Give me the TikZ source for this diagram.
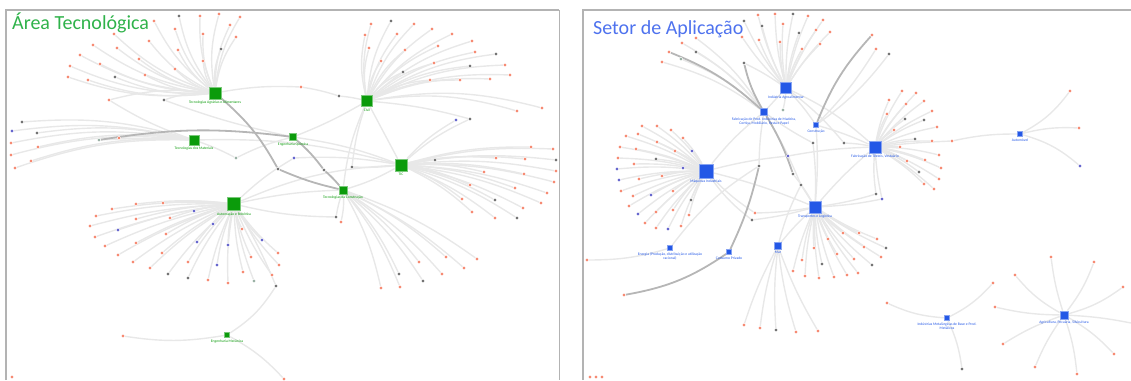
\documentclass[tikz,border=0pt]{standalone}
\usepackage{fontspec}
\setmainfont{Carlito}
\usetikzlibrary{positioning,backgrounds}

\definecolor{hubgreen}{HTML}{0B9B0B}
\definecolor{hubblue}{HTML}{2458E6}
\definecolor{leafr}{HTML}{F4694A}
\definecolor{leafd}{HTML}{4B4B4B}
\definecolor{leafb}{HTML}{3A3AC0}
\definecolor{leafg}{HTML}{7E9C8C}
\definecolor{edgegray}{HTML}{E8E8E8}
\definecolor{heavygray}{HTML}{B6B6B6}
\definecolor{framegray}{HTML}{B3B3B3}
\definecolor{titlegreen}{HTML}{2FB24A}
\definecolor{titleblue}{HTML}{4E72EE}

\begin{document}
\begin{tikzpicture}[x=1pt,y=-1pt,
    hubg/.style={draw=hubgreen!55!white, fill=hubgreen, inner sep=0pt, line width=0.8pt},
    hubb/.style={draw=hubblue!55!white, fill=hubblue, inner sep=0pt, line width=0.8pt},
    leaf/.style={circle, draw=white, line width=0.5pt, inner sep=0pt, minimum size=3.6pt},
    link/.style={draw=edgegray, line width=1.4pt},
    heavy/.style={draw=heavygray, line width=1.8pt},
    glbl/.style={font=\fontsize{3.7}{4.2}\selectfont, text=hubgreen, inner sep=0.6pt, align=center},
    blbl/.style={font=\fontsize{3.7}{4.2}\selectfont, text=hubblue, inner sep=0.6pt, align=center},
    ttl/.style={font=\fontsize{20}{22}\selectfont, inner sep=0pt, anchor=base west},
    frame/.style={draw=framegray, line width=2pt}
]
\useasboundingbox (0,0) rectangle (1131,380);

% panels
\draw[frame] (6,380) -- (6,10) -- (559,10);
\draw[framegray, line width=1pt] (559,10) -- (559,380);
\draw[frame] (583,380) -- (583,10) -- (1131,10);
\node[ttl, text=titlegreen] (lttl) at (12,29) {Área Tecnológica};
\node[ttl, text=titleblue] (rttl) at (593,34) {Setor de Aplicação};

% left: hubs
\node[hubg, minimum size=12pt] (agr) at (215,93) {};
\node[glbl, below=1pt of agr] (agrl) {Tecnologias Agrárias e Alimentares};
\node[hubg, minimum size=10pt] (mat) at (194,140) {};
\node[glbl, below=1pt of mat] (matl) {Tecnologias dos Materiais};
\node[hubg, minimum size=6.5pt] (qui) at (293,137) {};
\node[glbl, below=1pt of qui] (quil) {Engenharia Química};
\node[hubg, minimum size=11pt] (civ) at (367,101) {};
\node[glbl, below=1pt of civ] (civl) {Civil};
\node[hubg, minimum size=12pt] (tic) at (401,165) {};
\node[glbl, below=1pt of tic] (ticl) {TIC};
\node[hubg, minimum size=8pt] (con) at (343,190) {};
\node[glbl, below=1pt of con] (conl) {Tecnologias da Construção};
\node[hubg, minimum size=13.5pt] (aut) at (234,204) {};
\node[glbl, below=1pt of aut] (autl) {Automação e Robótica};
\node[hubg, minimum size=5.5pt] (mec) at (227,335) {};
\node[glbl, below=1pt of mec] (mecl) {Engenharia Mecânica};

% left: fans
\foreach \x/\y/\c [count=\i] in {154/21/r,179/16/d,200/16/r,219/14/r,240/17/r,230/25/r,236/37/r,175/29/r,203/34/r,221/49/d,203/61/r,178/50/r,175/69/r,149/41/r,114/34/r,117/48/r,93/45/r,139/59/r,80/55/r,100/64/r,70/66/r,145/75/r,115/77/d,68/77/r,88/80/r} {
  \node[leaf, fill=leaf\c] (agr\i) at (\x,\y) {};
  \begin{scope}[on background layer]
    \draw[link] (agr) to[bend left=12] (agr\i);
  \end{scope}
}
\foreach \x/\y/\c [count=\i] in {22/122/d,12/131/b,37/133/d,11/143/r,38/147/r,11/155/r,31/161/r,15/168/r,119/138/r} {
  \node[leaf, fill=leaf\c] (mat\i) at (\x,\y) {};
  \begin{scope}[on background layer]
    \draw[link] (mat) to[bend right=10] (mat\i);
  \end{scope}
}
\foreach \x/\y/\c [count=\i] in {371/24/r,391/21/d,414/24/r,365/35/r,397/34/r,432/29/r,369/48/r,405/50/r,452/34/r,438/46/r,472/41/r,475/52/r,381/61/r,496/54/d,434/63/r,470/66/d,505/65/r,403/72/d,510/75/r,490/79/r,430/80/r,460/80/r,517/111/r,542/108/r} {
  \node[leaf, fill=leaf\c] (civ\i) at (\x,\y) {};
  \begin{scope}[on background layer]
    \draw[link] (civ) to[bend left=12] (civ\i);
  \end{scope}
}
\foreach \x/\y/\c [count=\i] in {531/147/r,553/149/r,435/160/d,496/158/r,525/159/r,556/160/d,484/172/r,524/174/r,556/171/r,554/182/r,470/185/r,515/188/r,547/193/r,462/199/r,495/200/d,541/203/r,523/208/r,472/212/r,495/218/r,517/218/d} {
  \node[leaf, fill=leaf\c] (tic\i) at (\x,\y) {};
  \begin{scope}[on background layer]
    \draw[link] (tic) to[bend left=8] (tic\i);
  \end{scope}
}
\foreach \x/\y/\c [count=\i] in {341/222/r,419/262/r,446/257/r,477/259/r,464/268/r,442/274/r,399/274/d,423/281/d,400/287/r,381/288/r} {
  \node[leaf, fill=leaf\c] (con\i) at (\x,\y) {};
  \begin{scope}[on background layer]
    \draw[link] (con) to[bend left=8] (con\i);
  \end{scope}
}
\foreach \x/\y/\c [count=\i] in {136/204/r,163/203/r,112/209/r,194/211/b,96/216/r,136/219/r,170/218/r,90/226/r,213/224/b,118/230/b,95/237/r,166/234/r,242/229/r,136/243/r,197/242/b,262/240/b,105/246/r,228/245/b,118/255/r,162/253/r,278/253/r,251/257/r,133/262/r,188/262/r,279/265/r,217/265/b,150/268/r,243/272/r,168/274/d,272/275/r,188/278/d,208/280/r,228/283/r,254/281/g} {
  \node[leaf, fill=leaf\c] (aut\i) at (\x,\y) {};
  \begin{scope}[on background layer]
    \draw[link] (aut) to[bend right=6] (aut\i);
  \end{scope}
}
\foreach \x/\y/\c [count=\i] in {123/336/r,284/379/r} {
  \node[leaf, fill=leaf\c] (mec\i) at (\x,\y) {};
  \begin{scope}[on background layer]
    \draw[link] (mec) to[bend left=9] (mec\i);
  \end{scope}
}

% left: shared nodes
\node[leaf, fill=leafd] (lx1) at (164,100) {};
\node[leaf, fill=leafr] (lx2) at (109,100) {};
\node[leaf, fill=leafg] (lx3) at (99,140) {};
\node[leaf, fill=leafg] (lx5) at (236,158) {};
\node[leaf, fill=leafd] (lx6) at (278,169) {};
\node[leaf, fill=leafd] (lx7) at (324,170) {};
\node[leaf, fill=leafd] (lx8) at (352,167) {};
\node[leaf, fill=leafb] (lx9) at (294,158) {};
\node[leaf, fill=leafr] (lx10) at (301,87) {};
\node[leaf, fill=leafd] (lx11) at (339,96) {};
\node[leaf, fill=leafb] (lx12) at (456,120) {};
\node[leaf, fill=leafd] (lx13) at (470,119) {};
\node[leaf, fill=leafd] (lx14) at (336,217) {};
\node[leaf, fill=leafd] (lx15) at (276,286) {};
\node[leaf, fill=leafr] (lx16) at (12,377) {};

\begin{scope}[on background layer]
\draw[link] (agr) to[bend left=6] (lx10);
\draw[link] (lx10) to[bend left=4] (lx11);
\draw[link] (lx11) to[bend left=4] (civ);
\draw[link] (agr) to[bend right=10] (lx1);
\draw[link] (lx1) to[bend right=4] (qui);
\draw[link] (lx2) to[bend left=10] (agr);
\draw[link] (lx2) to[bend right=6] (mat);
\draw[link] (mat) to[bend right=3] (lx3);
\draw[link] (lx5) to[bend right=4] (mat);
\draw[link] (lx5) to[bend left=6] (qui);
\draw[link] (mat) to[bend left=8] (tic);
\draw[link] (civ) to[bend right=6] (lx8);
\draw[link] (lx8) to[bend right=4] (tic);
\draw[link] (civ) to[bend left=5] (lx13);
\draw[link] (lx13) to[bend right=8] (tic);
\draw[link] (lx12) to[bend right=8] (tic);
\draw[link] (qui) to[bend left=6] (tic);
\draw[link] (civ) -- (tic);
\draw[link] (civ) to[bend right=8] (con);
\draw[link] (civ) to[bend left=4] (qui);
\draw[link] (tic) to[bend left=6] (con);
\draw[link] (aut) to[bend left=10] (tic);
\draw[link] (aut) to[bend left=5] (con);
\draw[link] (aut) to[bend right=6] (lx14);
\draw[link] (lx14) to[bend left=4] (con);
\draw[link] (lx9) to[bend left=6] (tic);
\draw[link] (lx9) to[bend right=6] (aut);
\draw[link] (aut) to[bend left=4] (lx15);
\draw[link] (mec) to[bend right=12] (lx15);
\draw[heavy] (lx3) to[bend left=8] (qui);
\draw[heavy] (agr) to[bend left=10] (lx6);
\draw[heavy] (lx6) to[bend right=5] (con);
\draw[heavy] (qui) to[bend left=6] (lx7);
\draw[heavy] (lx7) to[bend left=4] (con);
\end{scope}

% right: hubs
\node[hubb, minimum size=10.5pt] (agro) at (786,88) {};
\node[blbl, below=1pt of agro] (agrol) {Indústria Agroalimentar};
\node[hubb, minimum size=7pt] (mad) at (764,112) {};
\node[blbl, below=1pt of mad] (madl) {Fabricação de Prod. Indústrias de Madeira,\\Cortiça, Mobiliário, Pasta e Papel};
\node[hubb, minimum size=5.5pt] (cst) at (816,125) {};
\node[blbl, below=1pt of cst] (cstl) {Construção};
\node[hubb, minimum size=12pt] (tex) at (875,147) {};
\node[blbl, below=1pt of tex] (texl) {Fabricação de Têxteis, Vestuário};
\node[hubb, minimum size=5.5pt] (auto) at (1020,134) {};
\node[blbl, below=1pt of auto] (autol) {Automóvel};
\node[hubb, minimum size=14pt] (maq) at (706,171) {};
\node[blbl, below=1pt of maq] (maql) {Máquinas Industriais};
\node[hubb, minimum size=12pt] (tra) at (815,207) {};
\node[blbl, below=1pt of tra] (tral) {Transportes e Logística};
\node[hubb, minimum size=5pt] (ene) at (670,248) {};
\node[blbl, below=1pt of ene] (enel) {Energia (Produção, distribuição e utilização\\racional)};
\node[hubb, minimum size=5pt] (cons) at (729,252) {};
\node[blbl, below=1pt of cons] (consl) {Consumo Privado};
\node[hubb, minimum size=6.5pt] (mar) at (778,246) {};
\node[blbl, below=1pt of mar] (marl) {Mar};
\node[hubb, minimum size=5pt] (met) at (947,318) {};
\node[blbl, below=1pt of met] (metl) {Indústrias Metalúrgicas de Base e Prod.\\Metálicos};
\node[hubb, minimum size=8pt] (agri) at (1064,315) {};
\node[blbl, below=1pt of agri] (agril) {Agricultura, Pecuária, Silvicultura};

% right: fans
\foreach \x/\y/\c [count=\i] in {744/21/d,758/15/r,775/14/r,793/14/d,808/16/r,823/20/r,762/26/d,783/24/r,816/30/r,830/32/r,799/33/d,742/37/r,759/40/r,780/42/r,820/44/r,802/49/r} {
  \node[leaf, fill=leaf\c] (agro\i) at (\x,\y) {};
  \begin{scope}[on background layer]
    \draw[link] (agro) to[bend left=6] (agro\i);
  \end{scope}
}
\foreach \x/\y/\c [count=\i] in {682/43/r,696/38/r,696/52/d,681/59/g,662/62/r} {
  \node[leaf, fill=leaf\c] (mad\i) at (\x,\y) {};
  \begin{scope}[on background layer]
    \draw[link] (mad) to[bend right=10] (mad\i);
  \end{scope}
}
\foreach \x/\y/\c [count=\i] in {902/91/r,916/93/r,889/100/r,906/104/r,924/101/r,887/114/r,932/111/r,905/119/d,924/120/d,937/127/r,894/130/r,915/139/d,932/141/r,900/147/r,939/155/r,907/161/r,925/160/r,941/168/r,919/172/d,939/179/r,924/184/r,934/189/r} {
  \node[leaf, fill=leaf\c] (tex\i) at (\x,\y) {};
  \begin{scope}[on background layer]
    \draw[link] (tex) to[bend left=6] (tex\i);
  \end{scope}
}
\foreach \x/\y/\c/\b [count=\i] in {1070/91/r/-12,1079/128/r/8,1080/166/b/12} {
  \node[leaf, fill=leaf\c] (auto\i) at (\x,\y) {};
  \begin{scope}[on background layer]
    \draw[link] (auto) to[bend left=\b] (auto\i);
  \end{scope}
}
\foreach \x/\y/\c [count=\i] in {642/126/r,657/126/r,671/130/r,626/136/r,638/134/r,657/142/r,683/138/r,620/147/r,636/149/r,675/151/r,692/151/b,618/158/r,656/159/d,634/164/r,617/169/b,683/168/b,662/176/r,619/180/b,639/179/r,621/191/r,633/196/r,651/195/b,673/191/r,691/200/d,629/206/r,656/212/r,673/210/r,689/215/r,638/214/b,645/223/r,681/226/r,656/228/r,668/229/b} {
  \node[leaf, fill=leaf\c] (maq\i) at (\x,\y) {};
  \begin{scope}[on background layer]
    \draw[link] (maq) to[bend right=6] (maq\i);
  \end{scope}
}
\foreach \x/\y/\c [count=\i] in {843/233/r,859/233/r,828/239/r,814/248/r,837/254/r,854/259/r,802/260/r,822/264/d,793/271/r,805/276/r,819/278/r,834/277/r,847/275/r,858/273/r,877/239/r,864/247/r,886/248/d,881/257/r,872/265/d} {
  \node[leaf, fill=leaf\c] (tra\i) at (\x,\y) {};
  \begin{scope}[on background layer]
    \draw[link] (tra) to[bend right=5] (tra\i);
  \end{scope}
}
\foreach \x/\y/\c [count=\i] in {744/325/r,760/328/r,776/330/d,796/332/r,818/331/r} {
  \node[leaf, fill=leaf\c] (mar\i) at (\x,\y) {};
  \begin{scope}[on background layer]
    \draw[link] (mar) to[bend right=5] (mar\i);
  \end{scope}
}
\foreach \x/\y/\c/\b [count=\i] in {887/303/r/10,993/283/r/-10,962/369/d/8} {
  \node[leaf, fill=leaf\c] (met\i) at (\x,\y) {};
  \begin{scope}[on background layer]
    \draw[link] (met) to[bend left=\b] (met\i);
  \end{scope}
}
\foreach \x/\y/\c/\b [count=\i] in {1051/257/r/5,1094/262/r/-8,1015/275/r/10,1123/287/r/-10,995/307/r/6,1003/344/r/-6,1035/367/r/-6,1077/374/r/6,1114/354/r/8} {
  \node[leaf, fill=leaf\c] (agri\i) at (\x,\y) {};
  \begin{scope}[on background layer]
    \draw[link] (agri) to[bend left=\b] (agri\i);
  \end{scope}
}

% right: shared nodes
\node[leaf, fill=leafd] (rx1) at (744,63) {};
\node[leaf, fill=leafg] (rx2) at (783,110) {};
\node[leaf, fill=leafd] (rx3) at (793,174) {};
\node[leaf, fill=leafr] (rx4) at (872,35) {};
\node[leaf, fill=leafr] (rx5) at (876,49) {};
\node[leaf, fill=leafd] (rx6) at (889,54) {};
\node[leaf, fill=leafd] (rx7) at (813,143) {};
\node[leaf, fill=leafd] (rx8) at (844,143) {};
\node[leaf, fill=leafb] (rx9) at (788,156) {};
\node[leaf, fill=leafd] (rx10) at (759,166) {};
\node[leaf, fill=leafd] (rx11) at (801,185) {};
\node[leaf, fill=leafr] (rx12) at (755,213) {};
\node[leaf, fill=leafd] (rx13) at (752,220) {};
\node[leaf, fill=leafd] (rx14) at (876,194) {};
\node[leaf, fill=leafb] (rx15) at (882,199) {};
\node[leaf, fill=leafr] (rx16) at (952,141) {};
\node[leaf, fill=leafr] (rx17) at (624,295) {};
\node[leaf, fill=leafr] (rx18) at (590,377) {};
\node[leaf, fill=leafr] (rx19) at (596,377) {};
\node[leaf, fill=leafr] (rx20) at (602,377) {};
\node[leaf, fill=leafr] (rx21) at (587,260) {};
\node[leaf, fill=leafr] (rx22) at (669,52) {};
\coordinate (tedge) at (1131,323);

\begin{scope}[on background layer]
\draw[link] (agro) to[bend right=4] (rx1);
\draw[link] (agro) -- (mad);
\draw[link] (agro) to[bend left=4] (cst);
\draw[link] (agro) to[bend left=4] (rx2);
\draw[link] (agro) to[bend left=8] (tex);
\draw[link] (rx5) to[bend left=6] (cst);
\draw[link] (rx6) to[bend left=8] (cst);
\draw[link] (cst) to[bend left=4] (tex);
\draw[link] (cst) to[bend left=4] (tra);
\draw[link] (mad) to[bend right=4] (rx7);
\draw[link] (rx7) to[bend left=4] (tra);
\draw[link] (agro) to[bend left=6] (rx8);
\draw[link] (rx8) to[bend left=4] (tex);
\draw[link] (maq) to[bend left=4] (rx9);
\draw[link] (rx9) to[bend left=4] (tex);
\draw[link] (mad) to[bend right=4] (rx10);
\draw[link] (maq) to[bend left=6] (mad);
\draw[link] (mad) to[bend left=4] (rx11);
\draw[link] (rx11) -- (tra);
\draw[link] (mar) to[bend left=6] (rx11);
\draw[link] (rx3) to[bend left=4] (tra);
\draw[link] (maq) to[bend right=6] (rx12);
\draw[link] (rx12) to[bend right=4] (tra);
\draw[link] (maq) to[bend right=8] (rx13);
\draw[link] (rx13) to[bend right=4] (tra);
\draw[link] (maq) to[bend left=4] (tra);
\draw[link] (tex) to[bend right=4] (tra);
\draw[link] (tex) to[bend right=6] (rx14);
\draw[link] (rx14) to[bend left=4] (tra);
\draw[link] (tex) to[bend right=4] (rx15);
\draw[link] (rx15) to[bend left=4] (tra);
\draw[link] (tex) to[bend left=2] (rx16);
\draw[link] (rx16) to[bend left=6] (auto);
\draw[link] (ene) to[bend left=8] (rx21);
\draw[link] (ene) to[bend left=10] (rx10);
\draw[link] (mar) to[bend left=4] (tra);
\draw[link] (agri) to[bend left=4] (tedge);
\draw[heavy] (rx1) to[bend right=8] (mad);
\draw[heavy] (rx22) to[bend left=10] (mad);
\draw[heavy] (mad) to[bend left=6] (rx3);
\draw[heavy] (cst) to[bend left=10] (rx4);
\draw[heavy] (cons) to[bend left=12] (rx17);
\draw[heavy] (cons) to[bend right=6] (rx10);
\end{scope}
\end{tikzpicture}
\end{document}
